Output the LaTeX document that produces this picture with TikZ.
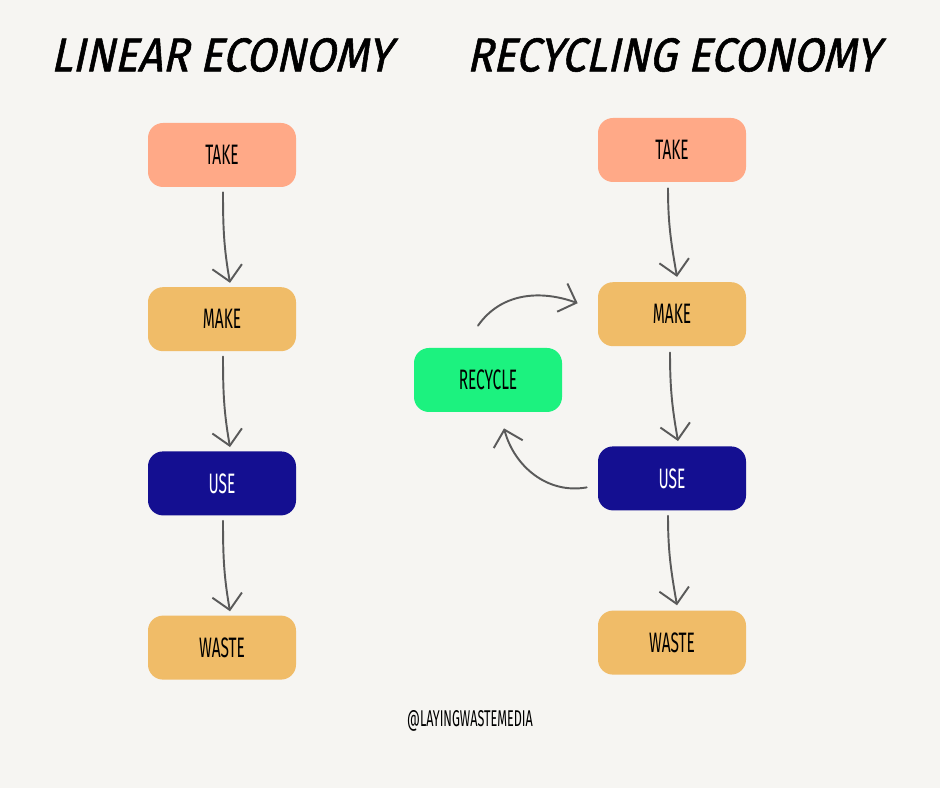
\documentclass[tikz,border=0pt]{standalone}
\usepackage{fontspec}
\usetikzlibrary{positioning,arrows.meta}
\newfontfamily\titlefont[FakeSlant=0.22,FakeStretch=0.91,FakeBold=1.2]{Fira Sans}
\newfontfamily\boxfont[FakeStretch=0.55]{Fira Sans}
\definecolor{paper}{HTML}{F6F5F2}
\definecolor{takecol}{HTML}{FFA987}
\definecolor{makecol}{HTML}{F0BC68}
\definecolor{usecol}{HTML}{140F91}
\definecolor{recyclecol}{HTML}{1CF27F}
\definecolor{arrowgray}{HTML}{5A5A5A}
\begin{document}
\begin{tikzpicture}[line cap=round,line join=round,
  stage/.style={rounded corners=0.3cm,minimum width=2.96cm,minimum height=1.28cm,
    font=\boxfont\fontsize{16}{16}\selectfont},
  flow/.style={draw=arrowgray,line width=1.1pt,-{Straight Barb[length=3mm,width=6mm]}},
  heading/.style={font=\titlefont\fontsize{27}{27}\selectfont}]
  \fill[paper] (0,0) rectangle (18.8,15.76);
  \useasboundingbox (0,0) rectangle (18.8,15.76);
  % headings
  \node[heading] (linhead) at (4.42,14.66) {LINEAR ECONOMY};
  \node[heading] (rechead) at (13.46,14.66) {RECYCLING ECONOMY};
  % linear economy
  \node[stage,fill=takecol] (take1) at (4.44,12.66) {TAKE};
  \node[stage,fill=makecol,below=1.99cm of take1] (make1) {MAKE};
  \node[stage,fill=usecol,text=white,below=1.99cm of make1] (use1) {USE};
  \node[stage,fill=makecol,below=1.99cm of use1] (waste1) {WASTE};
  \draw[flow] ([shift={(0.02,-0.1)}]take1.south) to[out=-90,in=100] ([shift={(0.16,0.08)}]make1.north);
  \draw[flow] ([shift={(0.02,-0.1)}]make1.south) to[out=-90,in=100] ([shift={(0.16,0.08)}]use1.north);
  \draw[flow] ([shift={(0.02,-0.1)}]use1.south) to[out=-90,in=100] ([shift={(0.16,0.08)}]waste1.north);
  % recycling economy
  \node[stage,fill=takecol] (take2) at (13.44,12.76) {TAKE};
  \node[stage,fill=makecol,below=1.99cm of take2] (make2) {MAKE};
  \node[stage,fill=usecol,text=white,below=1.99cm of make2] (use2) {USE};
  \node[stage,fill=makecol,below=1.99cm of use2] (waste2) {WASTE};
  \node[stage,fill=recyclecol] (recycle) at (9.76,8.16) {RECYCLE};
  \draw[flow] ([shift={(-0.08,-0.12)}]take2.south) to[out=-90,in=100] ([shift={(0.1,0.1)}]make2.north);
  \draw[flow] ([shift={(-0.04,-0.12)}]make2.south) to[out=-90,in=100] ([shift={(0.12,0.1)}]use2.north);
  \draw[flow] ([shift={(-0.08,-0.1)}]use2.south) to[out=-90,in=100] ([shift={(0.1,0.1)}]waste2.north);
  \draw[flow] ([shift={(-0.2,0.44)}]recycle.north) to[out=55,in=160] ([shift={(-0.4,0.22)}]make2.west);
  \draw[flow] ([shift={(-0.22,-0.18)}]use2.west) to[out=190,in=-75] ([shift={(0.32,-0.32)}]recycle.south);
  % handle
  \node[font=\boxfont\fontsize{13}{13}\selectfont] (handle) at (9.4,1.34) {@LAYINGWASTEMEDIA};
\end{tikzpicture}
\end{document}
